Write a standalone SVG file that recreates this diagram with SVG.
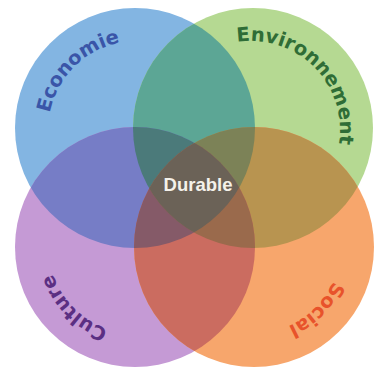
<svg xmlns="http://www.w3.org/2000/svg" width="374" height="367" viewBox="0 0 374 367">
<defs>
<clipPath id="cB"><circle cx="135" cy="128" r="120"/></clipPath>
<clipPath id="cG"><circle cx="253" cy="128" r="120"/></clipPath>
<clipPath id="cP"><circle cx="135" cy="247" r="120"/></clipPath>
<clipPath id="cO"><circle cx="254" cy="247" r="120"/></clipPath>
<path id="pE" d="M 72.1 190.9 A 89 89 0 0 1 197.9 65.1"/>
<path id="pV" d="M 190.1 65.1 A 89 89 0 0 1 315.9 190.9"/>
<path id="pC" d="M 197.9 309.9 A 89 89 0 0 1 72.1 184.1"/>
<path id="pS" d="M 316.9 184.1 A 89 89 0 0 1 191.1 309.9"/>
</defs>
<style>
.lbl{font-family:"DejaVu Sans",Verdana,sans-serif;font-weight:bold;font-size:19.5px;}
.dur{font-family:"Liberation Sans",Arial,sans-serif;font-weight:bold;font-size:18.5px;fill:#f4f1ea;}
</style>
<rect width="374" height="367" fill="#ffffff"/>
<g id="node-economie">
<circle cx="135" cy="128" r="120" fill="#83b5e2"/>
<text class="lbl" fill="#3a55a8"><textPath href="#pE" startOffset="50%" text-anchor="middle">Economie</textPath></text>
</g>
<g id="node-environnement">
<circle cx="253" cy="128" r="120" fill="#b5d992"/>
<text class="lbl" fill="#2f6d36"><textPath href="#pV" startOffset="50%" text-anchor="middle">Environnement</textPath></text>
</g>
<g id="node-culture">
<circle cx="135" cy="247" r="120" fill="#c59ad5"/>
<text class="lbl" fill="#5b2f83"><textPath href="#pC" startOffset="50%" text-anchor="middle">Culture</textPath></text>
</g>
<g id="node-social">
<circle cx="254" cy="247" r="120" fill="#f7a66c"/>
<text class="lbl" fill="#e8532b"><textPath href="#pS" startOffset="50%" text-anchor="middle">Social</textPath></text>
</g>
<g id="overlaps">
<g clip-path="url(#cB)"><circle cx="253" cy="128" r="120" fill="#5ca695"/></g>
<g clip-path="url(#cB)"><circle cx="135" cy="247" r="120" fill="#767dc6"/></g>
<g clip-path="url(#cG)"><circle cx="254" cy="247" r="120" fill="#b89450"/></g>
<g clip-path="url(#cP)"><circle cx="254" cy="247" r="120" fill="#cb6c60"/></g>
<g clip-path="url(#cB)"><g clip-path="url(#cG)"><circle cx="135" cy="247" r="120" fill="#4b7a7a"/></g></g>
<g clip-path="url(#cB)"><g clip-path="url(#cG)"><circle cx="254" cy="247" r="120" fill="#7c8257"/></g></g>
<g clip-path="url(#cB)"><g clip-path="url(#cP)"><circle cx="254" cy="247" r="120" fill="#855a68"/></g></g>
<g clip-path="url(#cG)"><g clip-path="url(#cP)"><circle cx="254" cy="247" r="120" fill="#9a6a4c"/></g></g>
<g clip-path="url(#cB)"><g clip-path="url(#cG)"><g clip-path="url(#cP)"><circle cx="254" cy="247" r="120" fill="#6b6257"/></g></g></g>
</g>
<g id="durable">
<text class="dur" x="198" y="191" text-anchor="middle">Durable</text>
</g>
</svg>
